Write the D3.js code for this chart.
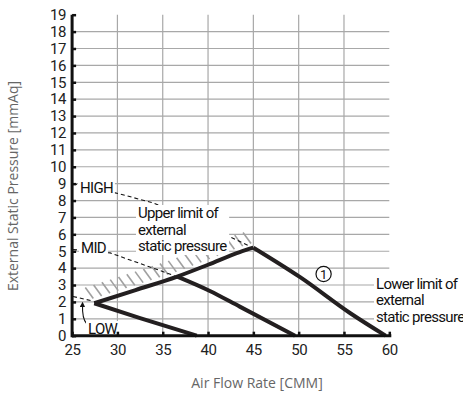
<!DOCTYPE html>
<html>
<head>
<meta charset="utf-8">
<script src="https://cdn.jsdelivr.net/npm/d3@7"></script>
<style>
  body { margin: 0; background: #fff; }
  svg text { font-family: Roboto, "DejaVu Sans Condensed", sans-serif; }
</style>
</head>
<body>
<svg id="chart" width="463" height="396"></svg>
<script>
// Axis ticks
const xTicks = [25, 30, 35, 40, 45, 50, 55, 60];
const yTicks = d3.range(0, 20); // 0..19

// Curves [air flow CMM, pressure mmAq]
const upperLimit = [[27.45, 1.92], [32, 2.7], [36.6, 3.5], [40, 4.2], [43.5, 4.95], [45, 5.21]];
const lowCurve = [[27.45, 1.92], [32.5, 1.04], [38.75, 0]];
const midCurve = [[36.6, 3.5], [40.2, 2.65], [43.5, 1.72], [49.6, 0]];
const highCurve = [[45, 5.21], [50.2, 3.45], [55.7, 1.33], [59.6, 0]];

// Dashed leaders from the speed labels
const highLeader = [[25.1, 9], [30.2, 8.4], [34, 7.85], [43.2, 5.66], [44.4, 5.35]];
const midLeader = [[25.1, 5.1], [29.2, 4.9], [36.3, 3.55]];
const lowLeader = [[25.1, 2.32], [27.3, 2.05]];

const svg = d3.select("#chart");

const x = d3.scaleLinear().domain([25, 60]).range([72.1, 389.3]);
const y = d3.scaleLinear().domain([0, 19]).range([335.7, 14.7]);

const line = d3.line()
  .x(d => x(d[0]))
  .y(d => y(d[1]))
  .curve(d3.curveMonotoneX);

const straight = d3.line()
  .x(d => x(d[0]))
  .y(d => y(d[1]));

// Grid
const grid = svg.append("g").attr("stroke", "#a8a8a8").attr("stroke-width", 1.2);
grid.selectAll("line.v")
  .data(xTicks.filter(d => d > 25 && d < 60))
  .join("line")
  .attr("class", "v")
  .attr("x1", d => x(d)).attr("x2", d => x(d))
  .attr("y1", y(0)).attr("y2", y(19));
grid.selectAll("line.h")
  .data(yTicks.filter(d => d > 0 && d < 19))
  .join("line")
  .attr("class", "h")
  .attr("x1", x(25)).attr("x2", x(60))
  .attr("y1", d => y(d)).attr("y2", d => y(d));

// Hatching above the upper limit line
function upperAt(px) {
  const xv = x.invert(px);
  const pts = upperLimit;
  if (xv <= pts[0][0]) {
    const s = (pts[1][1] - pts[0][1]) / (pts[1][0] - pts[0][0]);
    return y(pts[0][1] + s * (xv - pts[0][0]));
  }
  for (let i = 1; i < pts.length; i++) {
    if (xv <= pts[i][0]) {
      const t = (xv - pts[i - 1][0]) / (pts[i][0] - pts[i - 1][0]);
      return y(pts[i - 1][1] + t * (pts[i][1] - pts[i - 1][1]));
    }
  }
  return y(pts[pts.length - 1][1]);
}
const hatchX = d3.range(x(26.9), x(44.6), 8.3);
svg.append("g")
  .attr("stroke", "#a0a0a0")
  .attr("stroke-width", 1.6)
  .selectAll("line")
  .data(hatchX)
  .join("line")
  .attr("x1", d => d - 4)
  .attr("y1", d => upperAt(d + 4) - 16)
  .attr("x2", d => d + 4)
  .attr("y2", d => upperAt(d + 4) - 5);

// Dashed leaders
svg.append("g")
  .attr("fill", "none")
  .attr("stroke", "#111")
  .attr("stroke-width", 1.1)
  .attr("stroke-dasharray", "4,3")
  .selectAll("path")
  .data([highLeader, midLeader, lowLeader])
  .join("path")
  .attr("d", straight);

// Label boxes (white backgrounds hide the grid behind the text)
function labelBox(lines, xPos, yBase, lh) {
  const g = svg.append("g");
  const t = g.append("text")
    .attr("x", xPos)
    .attr("y", yBase)
    .attr("font-size", 15)
    .attr("letter-spacing", -0.7)
    .attr("fill", "#111");
  lines.forEach((s, i) => {
    t.append("tspan").attr("x", xPos).attr("dy", i === 0 ? 0 : lh).text(s);
  });
  const bb = t.node().getBBox();
  g.insert("rect", "text")
    .attr("x", bb.x - 2).attr("y", bb.y + 1)
    .attr("width", bb.width + 4).attr("height", bb.height - 1)
    .attr("fill", "#fff");
  return g;
}

labelBox(["HIGH"], 80, 193);
labelBox(["MID"], 81, 252.5);
labelBox(["Upper limit of", "external", "static pressure"], 138, 218, 16.5);
labelBox(["Lower limit of", "external", "static pressure"], 376, 289, 16.3);

// Curves
svg.append("g")
  .attr("fill", "none")
  .attr("stroke", "#231f20")
  .attr("stroke-width", 4)
  .attr("stroke-linejoin", "miter")
  .selectAll("path")
  .data([upperLimit, lowCurve, midCurve, highCurve])
  .join("path")
  .attr("d", line);

// Arrow from LOW label
svg.append("defs").append("marker")
  .attr("id", "arr")
  .attr("viewBox", "0 0 10 10")
  .attr("refX", 5).attr("refY", 5)
  .attr("markerWidth", 5).attr("markerHeight", 5)
  .attr("orient", "auto")
  .append("path")
  .attr("d", "M0,0 L10,5 L0,10 z")
  .attr("fill", "#111");
svg.append("path")
  .attr("d", `M${x(26.6)},${y(0.72)} Q${x(26.1)},${y(1.0)} ${x(26.15)},${y(1.85)}`)
  .attr("fill", "none")
  .attr("stroke", "#111")
  .attr("stroke-width", 1.1)
  .attr("marker-end", "url(#arr)");
labelBox(["LOW"], 88, 334);

// Circled curve number
const circ = svg.append("g").attr("transform", `translate(${x(52.75)},${y(3.65)})`);
circ.append("circle").attr("r", 7.6).attr("fill", "#fff").attr("stroke", "#111").attr("stroke-width", 1.2);
circ.append("text").attr("text-anchor", "middle").attr("dy", "0.36em")
  .attr("font-size", 13).attr("fill", "#111").text("1");

// Axes
const xAxis = svg.append("g")
  .attr("transform", `translate(0,${y(0)})`)
  .call(d3.axisBottom(x).tickValues(xTicks).tickSizeInner(-4).tickSizeOuter(0).tickPadding(9));
const yAxis = svg.append("g")
  .attr("transform", `translate(${x(25)},0)`)
  .call(d3.axisLeft(y).tickValues(yTicks).tickSizeInner(-4).tickSizeOuter(0).tickPadding(6));

[xAxis, yAxis].forEach(a => {
  a.select(".domain").attr("stroke", "#111").attr("stroke-width", 3);
  a.selectAll(".tick line").attr("stroke", "#111").attr("stroke-width", 2.5);
  a.selectAll(".tick text")
    .attr("font-size", 15)
    .attr("fill", "#222")
    .attr("letter-spacing", -0.4)
    .style("font-family", "Roboto, sans-serif");
});
xAxis.select(".domain").attr("d", `M${x(25)},0H${x(60) + 2}`);
yAxis.select(".domain").attr("d", `M0,${y(0) + 1.5}V${y(19)}`);

// Axis titles
svg.append("text")
  .attr("x", 257).attr("y", 388)
  .attr("text-anchor", "middle")
  .attr("font-size", 14)
  .attr("fill", "#666")
  .style("font-family", "'Open Sans', sans-serif")
  .text("Air Flow Rate [CMM]");
svg.append("text")
  .attr("transform", "translate(18,186) rotate(-90)")
  .attr("text-anchor", "middle")
  .attr("font-size", 14)
  .attr("fill", "#666")
  .style("font-family", "'Open Sans', sans-serif")
  .text("External Static Pressure [mmAq]");
</script>
</body>
</html>
